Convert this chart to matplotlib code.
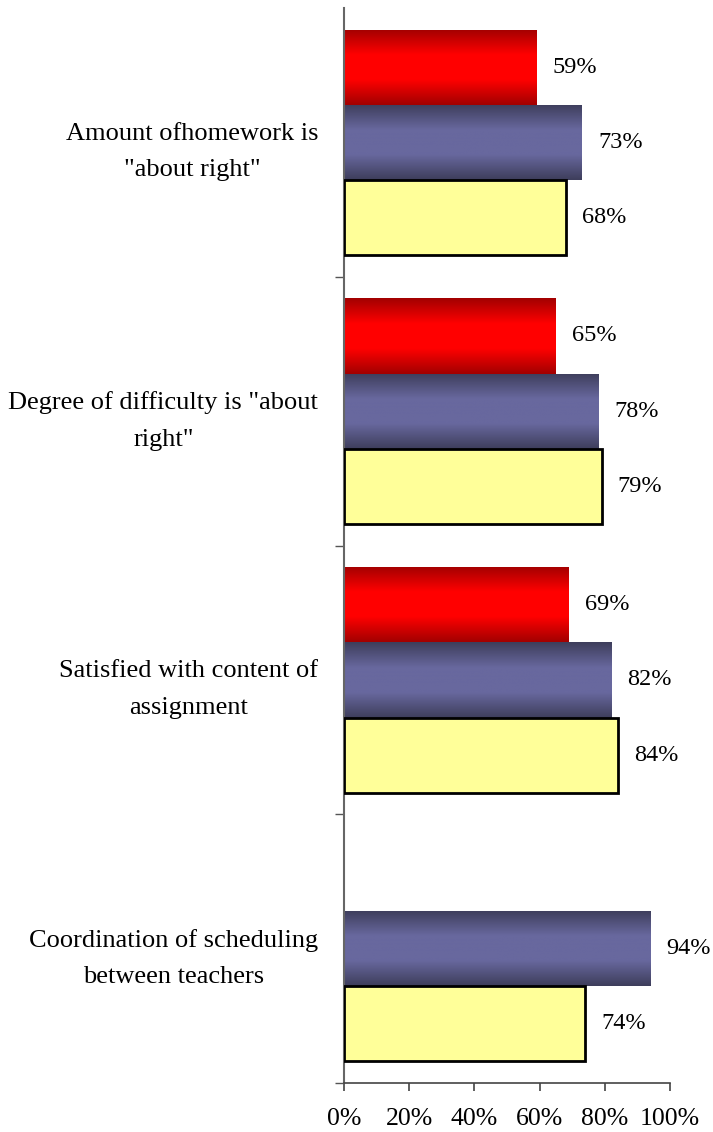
import numpy as np
import matplotlib.pyplot as plt
from matplotlib.colors import LinearSegmentedColormap

categories = ['Amount ofhomework is\n"about right"',
              'Degree of difficulty is "about\nright"',
              'Satisfied with content of\nassignment',
              'Coordination of scheduling\nbetween teachers']
red_vals = [59, 65, 69, None]
blue_vals = [73, 78, 82, 94]
yellow_vals = [68, 79, 84, 74]
xticks = [0, 20, 40, 60, 80, 100]

plt.rcParams['font.family'] = ['Liberation Serif', 'DejaVu Serif']

fig = plt.figure(figsize=(7.13, 11.32), dpi=100)
ax = fig.add_axes([0.4825, 0.0433, 0.9397 - 0.4825, 0.9929 - 0.0433])

h = 0.28
ypos = np.arange(len(categories))

red_cmap = LinearSegmentedColormap.from_list('r', ['#a30000', '#ff0000', '#ff0000', '#a30000'])
blue_cmap = LinearSegmentedColormap.from_list('b', ['#3e3e5c', '#68689e', '#68689e', '#3e3e5c'])
grad = np.linspace(0, 1, 100).reshape(-1, 1)


def gradient_bars(vals, offset, cmap):
    for y, v in zip(ypos, vals):
        if v is None:
            continue
        b = ax.barh(y + offset, v, height=h, color='none', edgecolor='none')[0]
        img = ax.imshow(grad, cmap=cmap, aspect='auto', zorder=2,
                        extent=(0, v, y + offset + h / 2, y + offset - h / 2))
        img.set_clip_path(b)


def label(vals, offset):
    for y, v in zip(ypos, vals):
        if v is None:
            continue
        ax.annotate(f'{v}%', (v, y + offset), xytext=(11.5, 0), textcoords='offset points',
                    va='center', ha='left', fontsize=17.5)


gradient_bars(red_vals, -h, red_cmap)
gradient_bars(blue_vals, 0, blue_cmap)
ax.barh(ypos + h, yellow_vals, height=h, color='#ffff99', edgecolor='black', linewidth=2, zorder=3)

label(red_vals, -h)
label(blue_vals, 0)
label(yellow_vals, h)

ax.set_xlim(0, 100)
ax.set_ylim(3.5, -0.5)
ax.set_xticks(xticks)
ax.set_xticklabels([f'{t}%' for t in xticks], fontsize=18.5)
ax.set_yticks(ypos)
ax.set_yticklabels(categories, fontsize=19)
for t in ax.get_yticklabels():
    t.set_multialignment('center')
    t.set_linespacing(1.85)
ax.set_yticks([0.5, 1.5, 2.5, 3.5], minor=True)
ax.tick_params(axis='y', which='major', length=0, pad=18.5)
ax.tick_params(axis='y', which='minor', length=6.5, width=1, color='#555555')
ax.tick_params(axis='x', length=6, width=1.2, pad=12, color='#444444')

for s in ['top', 'right']:
    ax.spines[s].set_visible(False)
ax.spines['left'].set_color('#666666')
ax.spines['left'].set_linewidth(1.5)
ax.spines['bottom'].set_color('#444444')
ax.spines['bottom'].set_linewidth(1.2)

fig.savefig('out.png', dpi=100)
